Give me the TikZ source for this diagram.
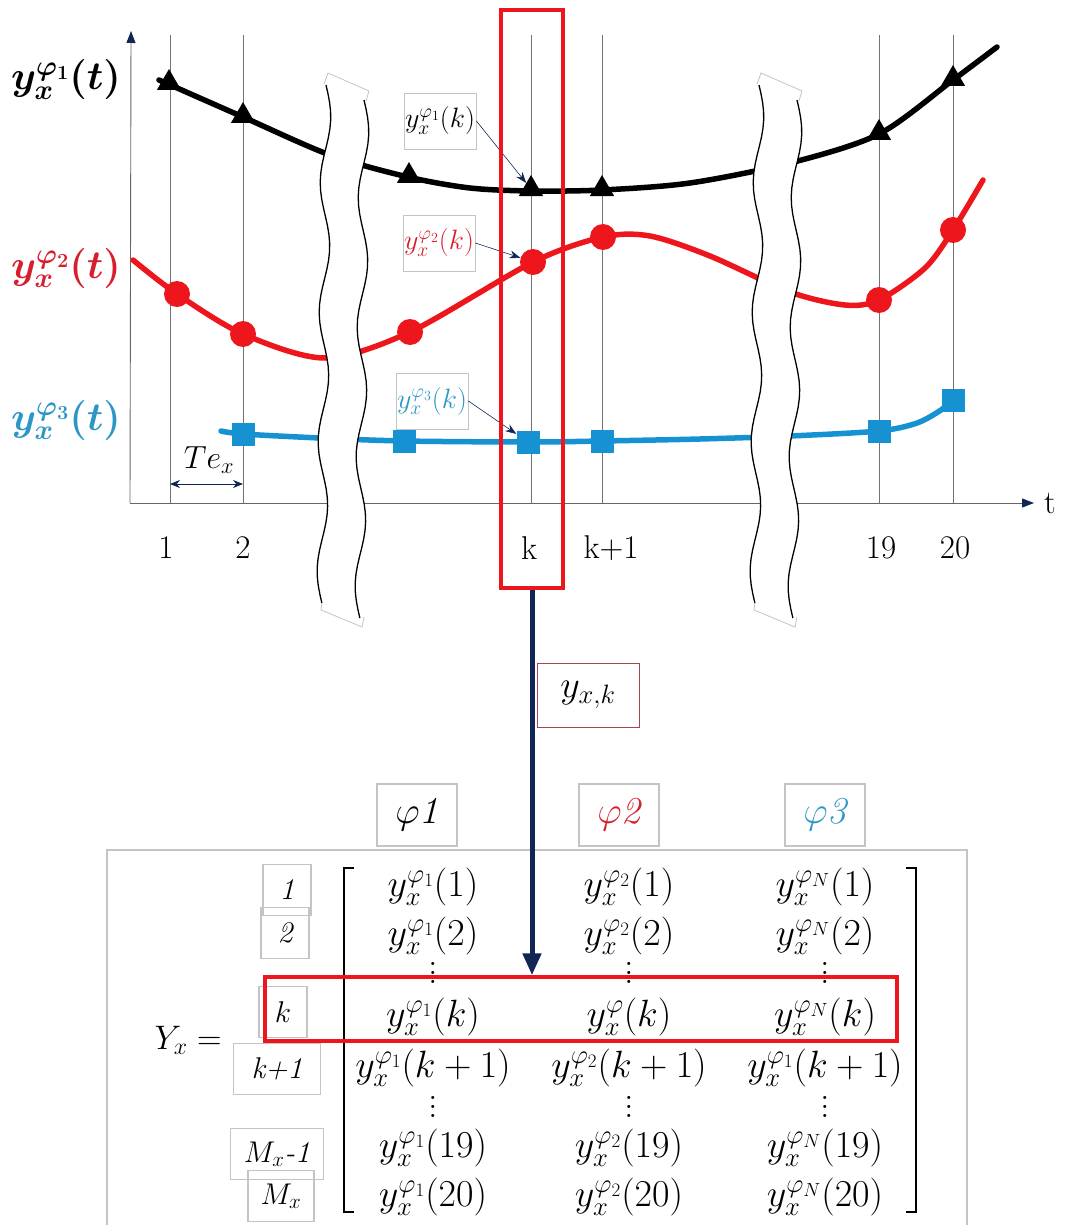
\RequirePackage{fix-cm}
\documentclass[tikz,border=0pt]{standalone}
\usepackage{amsmath,amssymb}
\usepackage{bm}
\usepackage{xcolor}
\usetikzlibrary{arrows.meta,positioning,calc,shapes.geometric}

\definecolor{sigred}{RGB}{236,22,28}
\definecolor{sigblue}{RGB}{22,146,210}
\definecolor{labred}{RGB}{214,30,45}
\definecolor{labblue}{RGB}{44,150,196}
\definecolor{navy}{RGB}{16,38,84}
\definecolor{framegray}{RGB}{196,196,196}
\definecolor{boxred}{RGB}{160,72,78}

\newcommand{\colvdots}{\vbox{\baselineskip=9pt \lineskiplimit=0pt \hbox{.}\hbox{.}\hbox{.}}}

\begin{document}
\begin{tikzpicture}[
  x=1pt, y=-1pt,
  gridline/.style={draw=gray!90!black, line width=0.7pt},
  axisline/.style={draw=gray!80!black, line width=0.9pt},
  sig/.style={line width=5.5pt, line cap=round},
  tri/.style={regular polygon, regular polygon sides=3, fill=black, inner sep=0pt, minimum size=28pt},
  rdot/.style={circle, fill=sigred, inner sep=0pt, minimum size=26pt},
  bsq/.style={rectangle, fill=sigblue, inner sep=0pt, minimum size=23pt},
  ticklbl/.style={font=\fontsize{33}{38}\selectfont},
  sigl/.style={font=\fontsize{40}{46}\selectfont},
  note/.style={draw=framegray, line width=0.8pt, inner sep=0pt, minimum width=72pt, minimum height=56pt, font=\fontsize{28}{32}\selectfont},
  ptr/.style={-{Stealth[length=11pt,width=8pt]}, draw=navy, line width=0.6pt},
  hilite/.style={draw=sigred, line width=3.5pt, inner sep=0pt},
  colbox/.style={draw=framegray, line width=1.5pt, inner sep=0pt, minimum width=80pt, minimum height=62pt, font=\fontsize{38}{44}\selectfont\itshape},
  rowbox/.style={draw=framegray, line width=1.2pt, inner sep=0pt, minimum height=51pt, font=\fontsize{30}{36}\selectfont\itshape},
  ent/.style={anchor=base, inner sep=0pt, font=\fontsize{38}{44}\selectfont},
  breakedge/.style={line width=1.3pt},
  breakcap/.style={draw=framegray, line width=0.8pt},
  >=Stealth
]
  \useasboundingbox (0,0) rectangle (1065,1225);

  % ── time axis and sample lines ──
  \foreach \gx in {170,243,531,602,879,953}
    \draw[gridline] (\gx,35) -- (\gx,503);
  \coordinate (O) at (130,503);
  \coordinate (xend) at (1034,503);
  \coordinate (yend) at (131,31);
  \draw[axisline, -{Triangle[length=12pt,width=9pt,color=navy]}] (O) -- (xend);
  \draw[axisline, -{Triangle[length=12pt,width=9pt,color=navy]}] (O) -- (yend);

  \node[ticklbl] (l1) at (166,548) {1};
  \node[ticklbl] (l2) at (243,548) {2};
  \node[ticklbl] (lk) at (529,548) {k};
  \node[ticklbl] (lk1) at (611,548) {k+1};
  \node[ticklbl] (l19) at (881,548) {19};
  \node[ticklbl] (l20) at (955,548) {20};
  \node[ticklbl] (lt) at (1050,503) {t};

  % ── the three signals ──
  \draw[sig] plot[smooth] coordinates {(159,80) (243,117) (330,155)
    (408,177) (470,188) (531,191) (602,190) (690,183) (790,163) (879,134)
    (953,80) (997,47)};
  \draw[sig, sigred] plot[smooth] coordinates {(133,260) (177,294) (243,334)
    (325,358) (410,332) (533,262) (603,237) (650,236) (710,256) (790,292)
    (845,305) (879,300) (925,268) (953,230) (983,180)};
  \draw[sig, sigblue] plot[smooth] coordinates {(221,431) (243,434) (320,438)
    (404,441) (528,442) (602,441) (700,439) (790,436) (879,431) (917,423)
    (941,410) (953,400)};

  % ── axis breaks ──
  \foreach \bx in {345,778} {
    \begin{scope}[shift={(\bx,0)}]
      \fill[white] (-21,84) -- (-17,73) -- (24,91) -- (21,101) -- (19,100)
        -- plot[domain=100:618, samples=60, variable=\t]
           ({19-0.008*(\t-100)+5*sin(2.78*(\t-100))}, \t)
        -- (19,617) -- (17,627) -- (-24,610) -- (-23.1,603)
        -- plot[domain=603:85, samples=60, variable=\t]
           ({-19-0.008*(\t-85)+5*sin(2.78*(\t-85))}, \t)
        -- cycle;
      \draw[breakedge] plot[domain=85:603, samples=60, variable=\t]
        ({-19-0.008*(\t-85)+5*sin(2.78*(\t-85))}, \t);
      \draw[breakedge] plot[domain=100:618, samples=60, variable=\t]
        ({19-0.008*(\t-100)+5*sin(2.78*(\t-100))}, \t);
      \draw[breakcap] (-21,84) -- (-17,73) -- (24,91) -- (21,101);
      \draw[breakcap] (-23.1,603) -- (-24,610) -- (17,627) -- (19,617);
    \end{scope}
  }

  % ── samples ──
  \foreach \mx/\my [count=\i] in {169/83, 243/116, 409/176, 531/189, 602/189, 879/133, 953/79}
    \node[tri] (tri\i) at (\mx,\my) {};
  \foreach \mx/\my [count=\i] in {177/294, 243/334, 410/332, 533/262, 603/237, 879/300, 953/230}
    \node[rdot] (dot\i) at (\mx,\my) {};
  \foreach \mx/\my [count=\i] in {243/434, 404/441, 528/442, 602/441, 879/431, 953/400}
    \node[bsq] (sqr\i) at (\mx,\my) {};

  % ── signal names ──
  \node[sigl] (name1) at (66,80) {$\bm{y_x^{\varphi_1}(t)}$};
  \node[sigl, text=labred] (name2) at (66,268) {$\bm{y_x^{\varphi_2}(t)}$};
  \node[sigl, text=labblue] (name3) at (66,420) {$\bm{y_x^{\varphi_3}(t)}$};

  % ── values at sample k ──
  \node[note] (n1) at (440,121) {$y_x^{\varphi_1}(k)$};
  \node[note, text=labred] (n2) at (439,243) {$y_x^{\varphi_2}(k)$};
  \node[note, text=labblue] (n3) at (432,401) {$y_x^{\varphi_3}(k)$};
  \draw[ptr] (n1.east) -- (tri4);
  \draw[ptr] (n2.east) -- (dot4);
  \draw[ptr] (n3.east) -- (sqr3);

  % ── sampling period ──
  \coordinate (te1) at (170,484);
  \coordinate (te2) at (243,484);
  \draw[{Stealth[length=10pt,width=8pt]}-{Stealth[length=10pt,width=8pt]}, navy, line width=0.8pt] (te1) -- (te2);
  \node[font=\fontsize{32}{36}\selectfont] (te) at (209,460) {$Te_x$};

  % ── selected instant ──
  \node[hilite, minimum width=62pt, minimum height=578pt] (sel) at (532,299) {};
  \node[draw=boxred, line width=1pt, minimum width=102pt, minimum height=64pt,
    font=\fontsize{38}{44}\selectfont] (yxk) at (588,695) {$y_{x,k}$};

  % ── data matrix ──
  \draw[framegray, line width=1.5pt] (107,1226) -- (107,850) -- (967,850) -- (967,1226);
  \node[colbox] (ph1) at (417,815) {$\varphi$1};
  \node[colbox, text=labred] (ph2) at (619,815) {$\varphi$2};
  \node[colbox, text=labblue] (ph3) at (825,815) {$\varphi$3};

  \draw[line width=2.5pt] (354,868) -- (344,868) -- (344,1212) -- (354,1212);
  \draw[line width=2.5pt] (906,868) -- (916,868) -- (916,1212) -- (906,1212);

  \foreach \cx/\ph [count=\c] in {433/1, 629/2, 825/N} {
    \foreach \ry/\arg in {896/1, 945/2, 1157/19, 1206/20}
      \node[ent] (m\arg-\c) at (\cx,\ry) {$y_x^{\varphi_{\ph}}(\arg)$};
    \node[ent, anchor=center] (da\c) at (\cx,973) {\colvdots};
    \node[ent, anchor=center] (db\c) at (\cx,1107) {\colvdots};
  }
  \node[ent] (mk-1) at (433,1026) {$y_x^{\varphi_1}(k)$};
  \node[ent] (mk-2) at (629,1026) {$y_x^{\varphi}(k)$};
  \node[ent] (mk-3) at (825,1026) {$y_x^{\varphi_N}(k)$};
  \node[ent] (mkk-1) at (433,1077) {$y_x^{\varphi_1}(k+1)$};
  \node[ent] (mkk-2) at (629,1077) {$y_x^{\varphi_2}(k+1)$};
  \node[ent] (mkk-3) at (825,1077) {$y_x^{\varphi_1}(k+1)$};

  \node[rowbox, minimum width=48pt] (r1) at (287,890) {1};
  \node[rowbox, minimum width=48pt] (r2) at (285,933) {2};
  \node[rowbox, minimum width=48pt] (rk) at (283,1012) {$k$};
  \node[rowbox, minimum width=87pt] (rk1) at (277,1069) {k+1};
  \node[rowbox, minimum width=93pt] (rm1) at (277,1154) {$M_x$-1};
  \node[rowbox, minimum width=66pt] (rm) at (281,1196) {$M_x$};
  \node[font=\fontsize{34}{40}\selectfont] (Yx) at (188,1040) {$Y_x =$};

  \node[hilite, minimum width=632pt, minimum height=64pt] (hl) at (581,1009) {};
  \draw[navy, line width=5pt, -{Triangle[length=22pt,width=18pt]}] (sel.south) -- (sel.south |- hl.north);

\end{tikzpicture}
\end{document}
